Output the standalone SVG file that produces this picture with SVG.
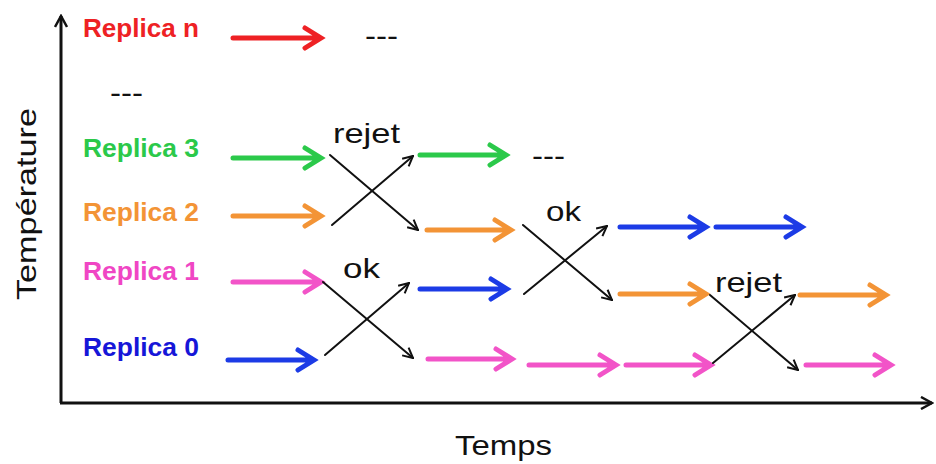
<svg xmlns="http://www.w3.org/2000/svg" width="936" height="464" viewBox="0 0 936 464">
<style>
.lbl{font-family:"Liberation Sans",Arial,sans-serif;font-weight:bold;font-size:26.5px}
.txt{font-family:"Liberation Sans",Arial,sans-serif;font-size:28px;fill:#111}
.arr{fill:none;stroke-width:5;stroke-linecap:round;stroke-linejoin:miter}
.x{fill:none;stroke:#111;stroke-width:2;stroke-linecap:round}
.red{stroke:#ee2124}.green{stroke:#2bc94a}.orange{stroke:#f39436}.pink{stroke:#f254c8}.blue{stroke:#1c3be6}
</style>
<defs>
<marker id="hk" viewBox="0 0 12 12" refX="11" refY="6" markerWidth="12" markerHeight="12" markerUnits="userSpaceOnUse" orient="auto">
<path d="M1,1 L11,6 L1,11" fill="none" stroke="#111" stroke-width="2"/>
</marker>
<marker id="ax" viewBox="0 0 14 14" refX="12" refY="7" markerWidth="14" markerHeight="14" markerUnits="userSpaceOnUse" orient="auto">
<path d="M1,1 L12,7 L1,13" fill="none" stroke="#111" stroke-width="2.5"/>
</marker>
</defs>
<rect width="936" height="464" fill="#fff"/>
<g id="axes">
<path d="M61,403 V16" fill="none" stroke="#111" stroke-width="3" marker-end="url(#ax)"/>
<path d="M60,403 H932" fill="none" stroke="#111" stroke-width="3" marker-end="url(#ax)"/>
<text class="txt" transform="translate(36,300) rotate(-90)" textLength="192" lengthAdjust="spacingAndGlyphs">Température</text>
<text class="txt" x="455" y="455" textLength="97" lengthAdjust="spacingAndGlyphs">Temps</text>
</g>
<g id="labels">
<text class="lbl" x="83" y="37" fill="#ee2124" textLength="116" lengthAdjust="spacingAndGlyphs">Replica n</text>
<text class="lbl" x="83" y="157" fill="#2bc94a" textLength="116" lengthAdjust="spacingAndGlyphs">Replica 3</text>
<text class="lbl" x="83" y="221" fill="#f39436" textLength="116" lengthAdjust="spacingAndGlyphs">Replica 2</text>
<text class="lbl" x="83" y="280" fill="#f046c4" textLength="116" lengthAdjust="spacingAndGlyphs">Replica 1</text>
<text class="lbl" x="83" y="356" fill="#1616d8" textLength="116" lengthAdjust="spacingAndGlyphs">Replica 0</text>
<text class="txt" x="365" y="45" textLength="33" lengthAdjust="spacingAndGlyphs">---</text>
<text class="txt" x="110" y="102" textLength="33" lengthAdjust="spacingAndGlyphs">---</text>
<text class="txt" x="532" y="165" textLength="33" lengthAdjust="spacingAndGlyphs">---</text>
<text class="txt" x="333" y="143" textLength="67" lengthAdjust="spacingAndGlyphs">rejet</text>
<text class="txt" x="343" y="278" textLength="37" lengthAdjust="spacingAndGlyphs">ok</text>
<text class="txt" x="546" y="221" textLength="35" lengthAdjust="spacingAndGlyphs">ok</text>
<text class="txt" x="715" y="292" textLength="67" lengthAdjust="spacingAndGlyphs">rejet</text>
</g>
<g id="connectors">
<path class="arr red" d="M233,38 H320 M305,28 L321,38 L305,48"/>
<path class="arr green" d="M233,158 H320 M305,148 L321,158 L305,168"/>
<path class="arr orange" d="M233,216 H320 M305,206 L321,216 L305,226"/>
<path class="arr pink" d="M233,282 H320 M305,272 L321,282 L305,292"/>
<path class="arr blue" d="M228,360 H313 M298,350 L314,360 L298,370"/>
<path class="arr green" d="M420,155 H505 M490,145 L506,155 L490,165"/>
<path class="arr orange" d="M427,230 H510 M495,220 L511,230 L495,240"/>
<path class="arr blue" d="M420,289 H506 M491,279 L507,289 L491,299"/>
<path class="arr pink" d="M428,359 H511 M496,349 L512,359 L496,369"/>
<path class="arr blue" d="M620,227 H705 M690,217 L706,227 L690,237"/>
<path class="arr blue" d="M716,227 H801 M786,217 L802,227 L786,237"/>
<path class="arr orange" d="M620,294 H705 M690,284 L706,294 L690,304"/>
<path class="arr pink" d="M529,365 H615 M600,355 L616,365 L600,375"/>
<path class="arr pink" d="M626,365 H710 M695,355 L711,365 L695,375"/>
<path class="arr orange" d="M800,295 H885 M870,285 L886,295 L870,305"/>
<path class="arr pink" d="M806,365 H890 M875,355 L891,365 L875,375"/>
<path class="x" d="M330,155 L418,230" marker-end="url(#hk)"/>
<path class="x" d="M332,225 L413,156" marker-end="url(#hk)"/>
<path class="x" d="M323,282 L413,358" marker-end="url(#hk)"/>
<path class="x" d="M325,355 L409,283" marker-end="url(#hk)"/>
<path class="x" d="M523,225 L612,300" marker-end="url(#hk)"/>
<path class="x" d="M524,294 L607,226" marker-end="url(#hk)"/>
<path class="x" d="M710,295 L798,370" marker-end="url(#hk)"/>
<path class="x" d="M713,363 L795,295" marker-end="url(#hk)"/>
</g>
</svg>
